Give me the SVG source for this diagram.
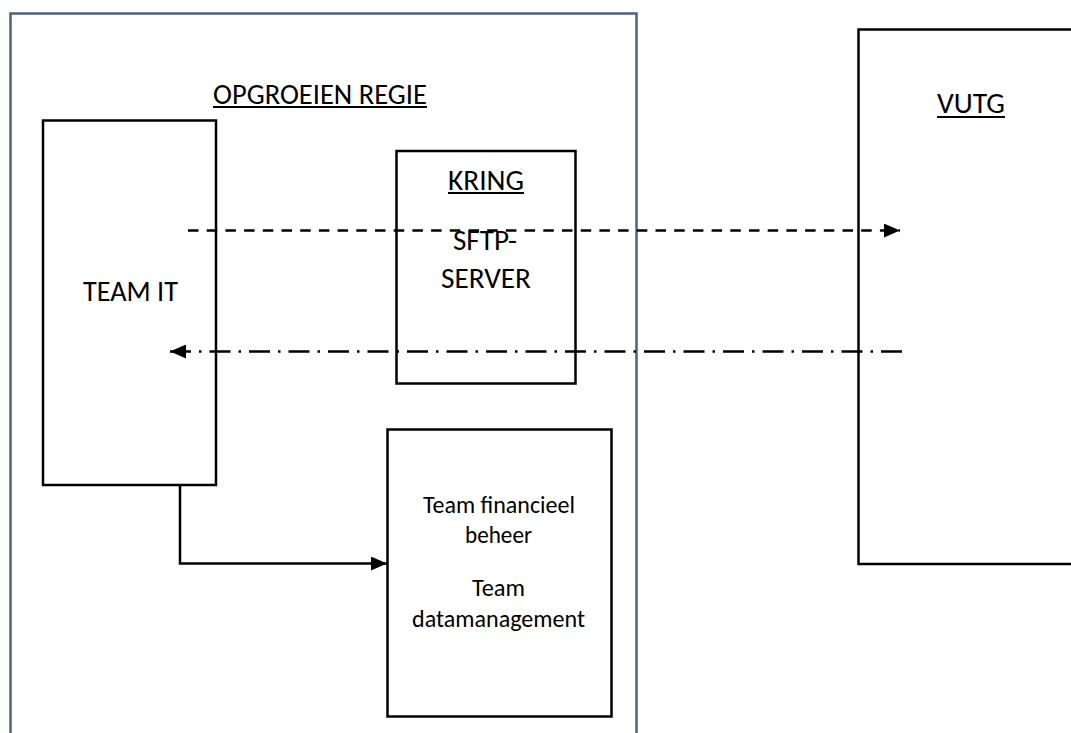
<svg xmlns="http://www.w3.org/2000/svg" width="1071" height="733" viewBox="0 0 1071 733">
  <style>
    .box { fill: #ffffff; stroke: #000000; stroke-width: 2.5; }
    .frame { fill: none; stroke: #4d6180; stroke-width: 2.5; }
    .big { font-family: Carlito, Calibri, "Liberation Sans", sans-serif; font-size: 28.5px; fill: #000000; }
    .small { font-family: Carlito, Calibri, "Liberation Sans", sans-serif; font-size: 23.5px; fill: #000000; }
    .ul { fill: #000000; }
    .conn { fill: none; stroke: #000000; stroke-width: 2.5; }
  </style>
  <defs>
    <marker id="arrow" markerUnits="userSpaceOnUse" markerWidth="16" markerHeight="14" refX="16" refY="7" orient="auto">
      <path d="M0,0 L16,7 L0,14 Z" fill="#000000"/>
    </marker>
  </defs>
  <rect width="1071" height="733" fill="#ffffff"/>

  <g id="opgroeien-regie">
    <rect class="frame" x="10.5" y="13.5" width="626" height="800"/>
    <text class="big" x="213" y="104" textLength="214" lengthAdjust="spacingAndGlyphs">OPGROEIEN REGIE</text>
    <rect class="ul" x="213" y="106" width="214" height="2"/>
  </g>

  <g id="vutg">
    <rect class="box" x="858.5" y="29.5" width="240" height="534.5"/>
    <text class="big" x="937" y="113" textLength="68" lengthAdjust="spacingAndGlyphs">VUTG</text>
    <rect class="ul" x="937" y="116" width="68" height="2"/>
  </g>

  <g id="team-it">
    <rect class="box" x="43" y="120.5" width="173" height="364.5"/>
    <text class="big" x="83" y="301" textLength="95" lengthAdjust="spacingAndGlyphs">TEAM IT</text>
  </g>

  <g id="kring">
    <rect class="box" x="396.5" y="151" width="179" height="232.5"/>
    <text class="big" x="448" y="190" textLength="76" lengthAdjust="spacingAndGlyphs">KRING</text>
    <rect class="ul" x="448" y="192" width="76" height="2"/>
    <text class="big" x="453" y="250" textLength="64" lengthAdjust="spacingAndGlyphs">SFTP-</text>
    <text class="big" x="441" y="288" textLength="90" lengthAdjust="spacingAndGlyphs">SERVER</text>
  </g>

  <g id="teams">
    <rect class="box" x="387.5" y="429.5" width="224" height="287"/>
    <text class="small" x="423" y="513" textLength="152" lengthAdjust="spacingAndGlyphs">Team financieel</text>
    <text class="small" x="465" y="543" textLength="67" lengthAdjust="spacingAndGlyphs">beheer</text>
    <text class="small" x="472" y="596" textLength="53" lengthAdjust="spacingAndGlyphs">Team</text>
    <text class="small" x="412" y="627" textLength="173" lengthAdjust="spacingAndGlyphs">datamanagement</text>
  </g>

  <g id="connectors">
    <path class="conn" d="M188,230.5 L900,230.5" stroke-dasharray="10.5 8.2" marker-end="url(#arrow)"/>
    <path class="conn" d="M902,351.5 L170,351.5" stroke-dasharray="21 8 2.5 8" marker-end="url(#arrow)"/>
    <path class="conn" d="M180,485 L180,563.5 L387,563.5" marker-end="url(#arrow)"/>
  </g>
</svg>
